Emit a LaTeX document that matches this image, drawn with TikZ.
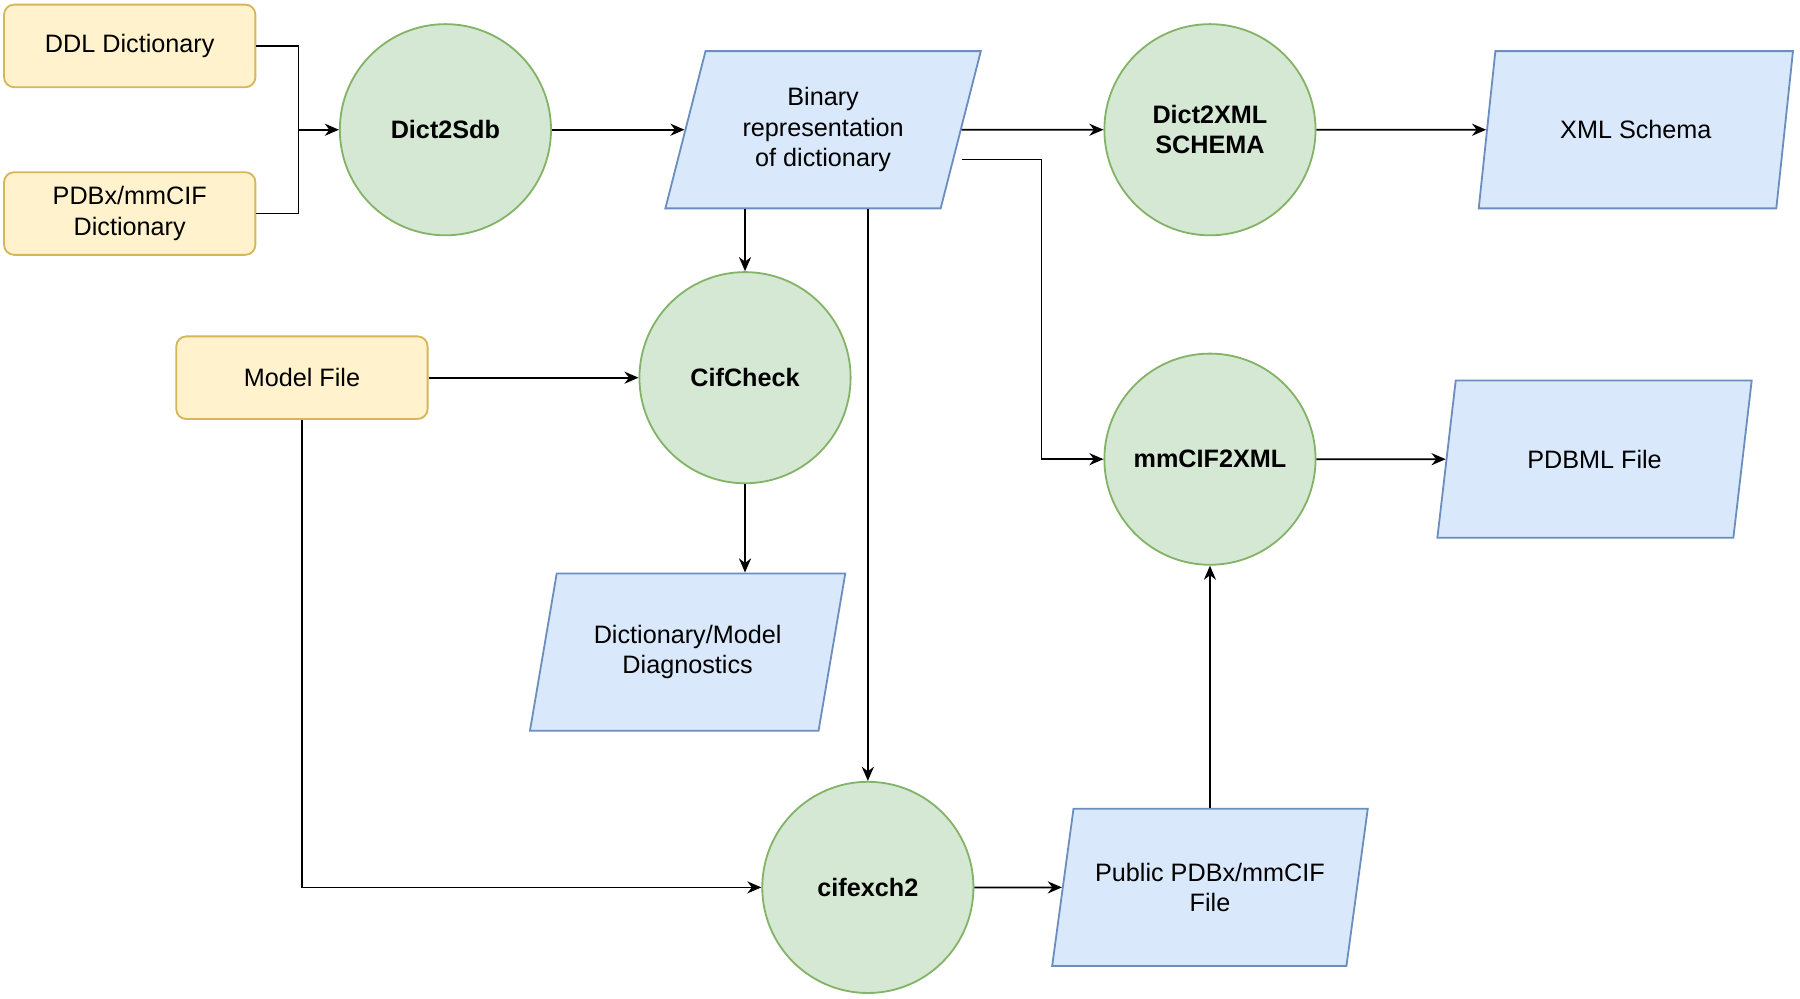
\documentclass[tikz,border=0pt]{standalone}
\usepackage{fontspec}
\setmainfont{Liberation Sans}
\usetikzlibrary{shapes.geometric,arrows.meta}
\definecolor{yfill}{HTML}{FFF2CC}\definecolor{ydraw}{HTML}{D6B656}
\definecolor{gfill}{HTML}{D5E8D4}\definecolor{gdraw}{HTML}{82B366}
\definecolor{bfill}{HTML}{DAE8FC}\definecolor{bdraw}{HTML}{6C8EBF}
\begin{document}
\begin{tikzpicture}[x=0.02cm,y=-0.02cm,
    font=\fontsize{12.5}{15}\selectfont,
    inbox/.style={draw=ydraw, fill=yfill, line width=0.9pt, rounded corners=5pt,
        minimum width=4.38cm, minimum height=1.44cm, align=center},
    proc/.style={circle, draw=gdraw, fill=gfill, line width=0.9pt,
        minimum size=3.68cm, font=\fontsize{12.5}{15}\selectfont\bfseries, align=center},
    datafile/.style={trapezium, trapezium left angle=73, trapezium right angle=107,
        trapezium stretches=true, draw=bdraw, fill=bfill, line width=0.9pt,
        minimum width=5.5cm, minimum height=2.74cm, align=center},
    flow/.style={line width=0.85pt, -{Stealth[length=7pt,width=6pt]}}]
    \useasboundingbox (0,0) rectangle (1568,870);
    % inputs
    \node[inbox] (ddl) at (113,40) {DDL Dictionary};
    \node[inbox] (pdbx) at (113,186) {PDBx/mmCIF\\Dictionary};
    \node[inbox] (model) at (263,329) {Model File};
    % programs
    \node[proc] (d2s) at (388,113) {Dict2Sdb};
    \node[proc] (d2x) at (1054,113) {Dict2XML\\SCHEMA};
    \node[proc] (check) at (649,329) {CifCheck};
    \node[proc] (m2x) at (1054,400) {mmCIF2XML};
    \node[proc] (cx) at (756,773) {cifexch2};
    % outputs
    \node[datafile] (bin) at (717,113) {Binary\\representation\\of dictionary};
    \node[datafile] (xsd) at (1425,113) {XML Schema};
    \node[datafile] (pdbml) at (1389,400) {PDBML File};
    \node[datafile] (diag) at (599,568) {Dictionary/Model\\Diagnostics};
    \node[datafile] (pub) at (1054,773) {Public PDBx/mmCIF\\File};
    % connectors
    \coordinate (join) at (260,113);
    \draw[line width=0.85pt] (ddl.east) -| (join);
    \draw[line width=0.85pt] (pdbx.east) -| (join);
    \draw[flow] (join) -- (d2s.west);
    \draw[flow] (d2s.east) -- (bin.west |- d2s.east);
    \draw[flow] (bin.east) -- (d2x.west);
    \draw[flow] (d2x.east) -- (xsd.west);
    \draw[flow] (check.north |- bin.south) -- (check.north);
    \draw[flow] (cx.north |- bin.south) -- (cx.north);
    \draw[flow] ([yshift=-0.52cm]bin.east) -| ([xshift=-1.08cm]m2x.west) -- (m2x.west);
    \draw[flow] (model.east) -- (check.west);
    \draw[flow] (check.south) -- (check.south |- diag.north);
    \draw[flow] (model.south) |- (cx.west);
    \draw[flow] (cx.east) -- (pub.west);
    \draw[flow] (pub.north -| m2x.south) -- (m2x.south);
    \draw[flow] (m2x.east) -- (pdbml.west);
\end{tikzpicture}
\end{document}
